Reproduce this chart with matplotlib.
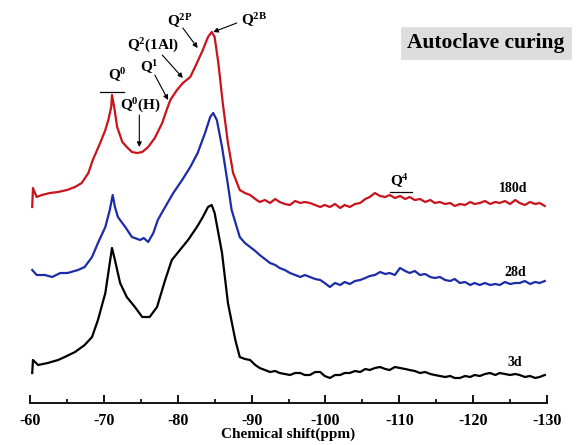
"""
29Si MAS NMR spectra, autoclave curing (3d / 28d / 180d).
"""

import matplotlib
matplotlib.use("Agg")
import matplotlib.pyplot as plt
from matplotlib.ticker import MultipleLocator

plt.rcParams["font.family"] = ["Liberation Serif", "DejaVu Serif"]
plt.rcParams["font.weight"] = "bold"
plt.rcParams["axes.unicode_minus"] = False
plt.rcParams["mathtext.fontset"] = "custom"
plt.rcParams["mathtext.rm"] = "Liberation Serif:bold"
plt.rcParams["mathtext.it"] = "Liberation Serif:bold"
plt.rcParams["mathtext.bf"] = "Liberation Serif:bold"

# ── data (chemical shift in ppm, intensity in a.u., spectra already stacked) ──
# peak region (-60 .. -88 ppm), read per series
ppm_180d_head = [-60.3, -60.4, -60.9, -61.6, -62.7, -63.8, -65.0, -66.1, -67.0, -67.9,
                 -68.5, -69.5, -70.2, -70.6, -71.0, -71.1, -71.4, -71.8, -72.5, -73.1,
                 -73.8, -74.5, -75.2, -76.0, -76.9, -77.9, -78.5, -79.0, -79.9, -80.7,
                 -81.7, -82.6, -83.4, -84.1, -84.6, -85.0, -85.5, -86.1, -86.8, -87.5]
int_180d_head = [196, 215, 206, 208, 210, 211, 213, 216, 220, 230,
                 243, 260, 273, 283, 296, 308, 296, 276, 261, 256,
                 251, 250, 251, 256, 265, 280, 293, 303, 313, 320,
                 326, 340, 353, 366, 371, 366, 340, 300, 260, 230]

ppm_28d_head = [-60.3, -60.9, -62.0, -63.0, -64.1, -65.1, -66.5, -67.4, -68.4, -69.2,
                -70.2, -70.8, -71.2, -71.5, -71.9, -72.9, -73.8, -74.9, -75.4, -76.0,
                -76.7, -77.3, -78.3, -79.4, -80.6, -81.7, -82.7, -83.7, -84.4, -84.8,
                -85.3, -86.0, -86.7, -87.3]
int_28d_head = [133, 128, 128, 126, 130, 130, 133, 136, 146, 160,
                176, 193, 208, 196, 186, 176, 166, 163, 165, 161,
                170, 183, 196, 210, 223, 236, 250, 270, 286, 290,
                283, 256, 223, 193]

ppm_3d_head = [-60.3, -60.4, -61.1, -62.4, -63.8, -64.7, -66.1, -67.4, -68.4, -69.2,
               -70.2, -70.8, -71.1, -71.5, -72.2, -73.1, -74.2, -75.2, -76.2, -77.2,
               -78.3, -79.2, -80.3, -81.4, -82.6, -83.4, -84.1, -84.6, -85.0, -86.0,
               -86.8, -87.8]
int_3d_head = [30, 43, 38, 40, 43, 46, 51, 58, 66, 83,
               110, 140, 155, 143, 120, 106, 96, 86, 86, 96,
               123, 143, 153, 163, 176, 186, 196, 198, 190, 150,
               100, 63]

# baseline region (-88.4 .. -129.7 ppm), common sampling
ppm_tail = [-88.4, -89.1, -89.8, -90.5, -91.1, -91.8, -92.5, -93.2, -93.8, -94.5,
            -95.2, -95.9, -96.6, -97.2, -97.9, -98.6, -99.3, -99.9, -100.6, -101.3,
            -102.0, -102.6, -103.3, -104.0, -104.7, -105.4, -106.0, -106.7, -107.4, -108.1,
            -108.7, -109.4, -110.1, -110.8, -111.4, -112.1, -112.8, -113.5, -114.2, -114.8,
            -115.5, -116.2, -116.9, -117.5, -118.2, -118.9, -119.6, -120.2, -120.9, -121.6,
            -122.3, -123.0, -123.6, -124.3, -125.0, -125.7, -126.3, -127.0, -127.7, -128.4,
            -129.0, -129.7]
int_180d_tail = [213, 210, 208, 204, 201, 203, 200, 204, 201, 199,
                 198, 202, 200, 201, 200, 198, 196, 198, 196, 199,
                 195, 198, 196, 199, 200, 204, 206, 210, 207, 206,
                 208, 205, 207, 204, 206, 203, 204, 201, 203, 200,
                 201, 199, 200, 197, 199, 198, 201, 199, 200, 202,
                 199, 201, 200, 202, 199, 203, 200, 198, 201, 199,
                 200, 197]
int_28d_tail = [166, 160, 156, 152, 148, 144, 140, 138, 135, 133,
                130, 128, 126, 128, 126, 124, 123, 120, 116, 120,
                118, 121, 119, 122, 123, 125, 127, 128, 131, 129,
                130, 128, 135, 132, 130, 132, 128, 129, 126, 125,
                126, 123, 122, 124, 120, 121, 118, 120, 118, 120,
                118, 119, 118, 121, 119, 120, 120, 122, 119, 121,
                120, 122]
int_3d_tail = [46, 44, 43, 38, 35, 33, 31, 32, 30, 29,
               28, 30, 30, 28, 28, 31, 31, 27, 25, 28,
               28, 30, 30, 32, 31, 34, 33, 35, 36, 34,
               33, 36, 35, 34, 33, 32, 30, 31, 29, 28,
               27, 26, 27, 25, 25, 27, 26, 28, 27, 29,
               30, 28, 30, 29, 28, 29, 28, 26, 27, 25,
               26, 28]

SERIES = [
    ("180d", ppm_180d_head + ppm_tail, int_180d_head + int_180d_tail, "#c8141c"),
    ("28d",  ppm_28d_head + ppm_tail,  int_28d_head + int_28d_tail,   "#1c2ca8"),
    ("3d",   ppm_3d_head + ppm_tail,   int_3d_head + int_3d_tail,     "#000000"),
]

fig = plt.figure(figsize=(5.77, 4.45), dpi=100)
ax = fig.add_axes([30 / 577, 42 / 445, 517 / 577, 403 / 445])

for name, x, y, col in SERIES:
    ax.plot(x, y, color=col, lw=1.6, solid_joinstyle="round")

# day labels
ax.text(-125.4, 215, "180d", fontsize=10, ha="center", va="center")
ax.text(-125.7, 130, "28d", fontsize=10, ha="center", va="center")
ax.text(-125.7, 40, "3d", fontsize=10, ha="center", va="center")

# peak assignments
arrow = dict(arrowstyle="-|>", color="black", lw=0.8, mutation_scale=7,
             shrinkA=0, shrinkB=0)
ax.text(-71.8, 328, "Q$^{0}$", fontsize=11, ha="center", va="center")
ax.plot([-69.5, -72.7], [311, 311], color="black", lw=0.9)
ax.annotate("", xy=(-74.8, 256), xytext=(-74.8, 288), arrowprops=arrow)
ax.text(-74.9, 297, "Q$^{0}$(H)", fontsize=11, ha="center", va="center")
ax.annotate("", xy=(-78.7, 303), xytext=(-76.9, 328), arrowprops=arrow)
ax.text(-76.2, 336, "Q$^{1}$", fontsize=11, ha="center", va="center")
ax.annotate("", xy=(-80.7, 325), xytext=(-77.9, 348), arrowprops=arrow)
ax.text(-76.7, 357, "Q$^{2}$(1Al)", fontsize=11, ha="center", va="center")
ax.annotate("", xy=(-82.7, 355), xytext=(-80.7, 375), arrowprops=arrow)
ax.text(-80.3, 382, "Q$^{2P}$", fontsize=11, ha="center", va="center")
ax.annotate("", xy=(-84.8, 371), xytext=(-88.0, 380), arrowprops=arrow)
ax.text(-90.3, 383, "Q$^{2B}$", fontsize=11, ha="center", va="center")
ax.text(-110.1, 222, "Q$^{4}$", fontsize=11, ha="center", va="center")
ax.plot([-108.7, -111.7], [211, 211], color="black", lw=0.9)

# title box
ax.text(-121.7, 360, "Autoclave curing", fontsize=15.5, ha="center", va="center",
        bbox=dict(boxstyle="square,pad=0.3", facecolor="#dddddd",
                  edgecolor="#c8c8c8", lw=0.6, linestyle=":"))

ax.set_xlim(-60, -130)
ax.set_ylim(0, 403)
for s in ("left", "right", "top"):
    ax.spines[s].set_visible(False)
ax.spines["bottom"].set_linewidth(1.3)
ax.set_yticks([])
ax.xaxis.set_major_locator(MultipleLocator(10))
ax.xaxis.set_minor_locator(MultipleLocator(5))
ax.tick_params(axis="x", which="major", direction="in", length=6, width=1.3,
               labelsize=11.5, pad=7)
ax.tick_params(axis="x", which="minor", direction="in", length=3, width=1.2)
ax.set_xlabel("Chemical shift(ppm)", fontsize=11, fontweight="bold", labelpad=-1)
ax.set_facecolor("none")

fig.savefig("out.png", dpi=100)
